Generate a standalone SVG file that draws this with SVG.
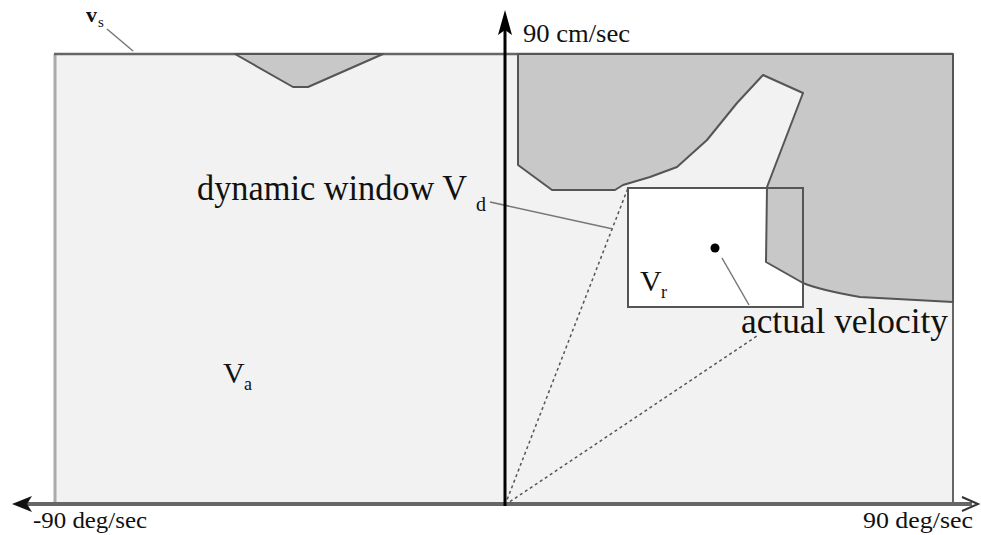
<svg xmlns="http://www.w3.org/2000/svg" width="981" height="535" viewBox="0 0 981 535">
<style>
.t{font-family:"Liberation Serif","Times New Roman","DejaVu Serif","Noto Serif",serif;fill:#111}
.obs{fill:#c8c8c8;stroke:#555;stroke-width:2;stroke-linejoin:round}
.lead{stroke:#777;stroke-width:1.5;fill:none}
.dash{stroke:#555;stroke-width:1.5;stroke-dasharray:3 3;fill:none}
</style>
<rect width="981" height="535" fill="#fff"/>
<g id="space">
<rect x="54" y="54" width="899" height="451" fill="#f2f2f2"/>
<line x1="55" y1="54" x2="55" y2="505" stroke="#aaa" stroke-width="3"/>
<line x1="953" y1="54" x2="953" y2="505" stroke="#666" stroke-width="2"/>
<line x1="54" y1="54" x2="953" y2="54" stroke="#666" stroke-width="2.5"/>
</g>
<g id="window-fill">
<rect x="628" y="188" width="175" height="119" fill="#fff"/>
</g>
<g id="obstacle-left">
<polygon class="obs" points="235,54 293,87 308,87 383,54"/>
</g>
<g id="obstacle-right">
<path class="obs" d="M518,54 L953,54 L953,302 L860,297 Q820,290 803,283 L766,262 L767,187 L803,93 L763,75 L737,103 L707,140 L677,167 L650,177 L623,185 L615,190 L552,190 L518,165 Z"/>
</g>
<g id="window">
<rect x="628" y="188" width="175" height="119" fill="none" stroke="#555" stroke-width="2"/>
<circle cx="715" cy="248" r="4.5" fill="#000"/>
</g>
<g id="connectors">
<line class="dash" x1="505" y1="505" x2="628" y2="188"/>
<line class="dash" x1="505" y1="505" x2="757" y2="336"/>
<line class="lead" x1="490" y1="202" x2="613" y2="229"/>
<line class="lead" x1="722" y1="258" x2="749" y2="305"/>
<line class="lead" x1="107" y1="29" x2="133" y2="51"/>
</g>
<g id="axes">
<line x1="20" y1="504" x2="972" y2="504" stroke="#666" stroke-width="4"/>
<path d="M12,504 L32,496 L27,504 L32,512 Z" fill="#111"/>
<path d="M962,497 L978,504 L962,511" fill="none" stroke="#333" stroke-width="2"/>
<line x1="505" y1="506" x2="505" y2="22" stroke="#000" stroke-width="3"/>
<path d="M505,10 L512,35 L505,30 L498,35 Z" fill="#000"/>
</g>
<g id="labels">
<text class="t" x="523" y="42" font-size="26" textLength="107" lengthAdjust="spacingAndGlyphs">90 cm/sec</text>
<text class="t" x="33" y="528" font-size="24" textLength="114" lengthAdjust="spacingAndGlyphs">-90 deg/sec</text>
<text class="t" x="863" y="528" font-size="24" textLength="110" lengthAdjust="spacingAndGlyphs">90 deg/sec</text>
<text class="t" x="86" y="22" font-size="22" font-weight="bold">v</text>
<text class="t" x="98" y="27" font-size="15">s</text>
<text class="t" x="197" y="200" font-size="36" textLength="270" lengthAdjust="spacingAndGlyphs">dynamic window V</text>
<text class="t" x="476" y="211" font-size="20">d</text>
<text class="t" x="741" y="333" font-size="35" textLength="207" lengthAdjust="spacingAndGlyphs">actual velocity</text>
<text class="t" x="640" y="291" font-size="30">V</text>
<text class="t" x="661" y="298" font-size="18">r</text>
<text class="t" x="223" y="383" font-size="30">V</text>
<text class="t" x="244" y="390" font-size="18">a</text>
</g>
</svg>
